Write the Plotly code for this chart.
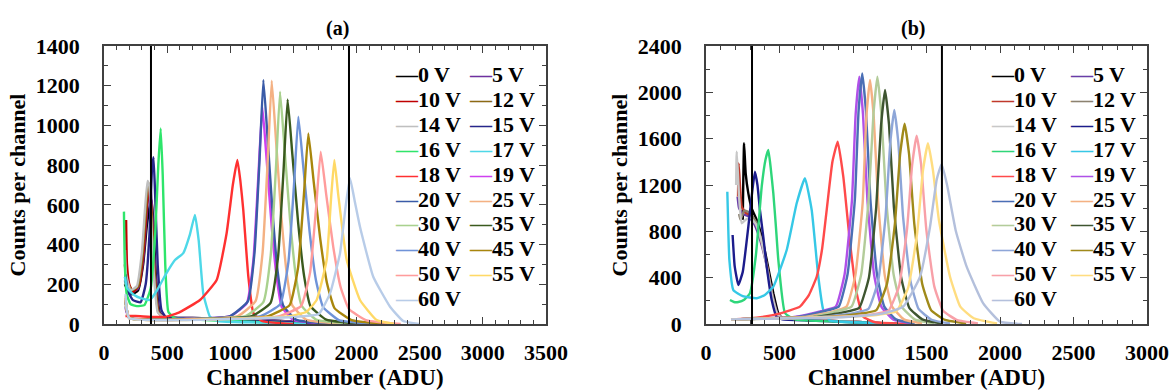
import plotly.graph_objects as go

# ---------------- data ----------------
labels = ["0 V", "5 V", "10 V", "12 V", "14 V", "15 V", "16 V", "17 V", "18 V", "19 V",
          "20 V", "25 V", "30 V", "35 V", "40 V", "45 V", "50 V", "55 V", "60 V"]

colors_a = ["#000000", "#7030A0", "#C00000", "#8C6A14", "#BFBFBF", "#26268C", "#2EE56B",
            "#4ED8E8", "#FF3030", "#D040F0", "#3A5BA8", "#F4B183", "#A9D18E", "#3A5A1E",
            "#6F93D8", "#A8860C", "#FF9C9C", "#FFD966", "#B8CCE8"]
colors_b = ["#000000", "#6A3DA8", "#C0392B", "#8C8270", "#C8C8C8", "#1C1C8C", "#2ED67A",
            "#36C8E6", "#FF4A4A", "#B050E8", "#4A6FB5", "#F4B183", "#B3CC9A", "#3E5530",
            "#8EA6D8", "#A08A1A", "#F8A0A8", "#FFDD80", "#B4C0DC"]

# Panel (a) spectra: channel (ADU) and counts per channel
a00_x = [165, 180, 220, 270, 310, 340, 365, 378, 392, 410, 440, 470, 700, 1000, 1400, 1800]
a00_y = [200, 180, 150, 170, 300, 500, 600, 624, 500, 250, 60, 35, 30, 25, 15, 0]
a05_x = [165, 180, 220, 270, 310, 335, 355, 368, 385, 405, 435, 470, 700, 1000, 1400, 1800]
a05_y = [220, 190, 160, 180, 320, 520, 680, 700, 520, 260, 60, 35, 30, 25, 15, 0]
a10_x = [175, 182, 200, 230, 280, 315, 340, 360, 378, 398, 430, 470, 700, 1000, 1400, 1800]
a10_y = [524, 300, 200, 160, 200, 380, 600, 700, 550, 280, 60, 35, 28, 22, 12, 0]
a12_x = [165, 180, 220, 270, 305, 330, 350, 362, 380, 400, 430, 470, 700, 1000, 1400, 1800]
a12_y = [300, 220, 170, 190, 350, 560, 710, 690, 500, 250, 60, 35, 28, 22, 12, 0]
a14_x = [166, 175, 210, 260, 300, 325, 345, 358, 375, 395, 425, 470, 700, 1000, 1400, 1800]
a14_y = [373, 250, 170, 190, 360, 580, 720, 700, 500, 250, 60, 35, 28, 22, 12, 0]
a15_x = [170, 185, 230, 290, 330, 360, 380, 392, 405, 425, 455, 490, 700, 1000, 1400, 1800]
a15_y = [250, 170, 120, 110, 200, 450, 780, 840, 650, 300, 70, 35, 28, 22, 12, 0]
a16_x = [158, 165, 180, 210, 260, 320, 370, 405, 430, 449, 465, 485, 510, 560, 800, 1200, 1600]
a16_y = [566, 300, 150, 100, 90, 95, 180, 450, 800, 985, 750, 300, 60, 30, 20, 10, 0]
a17_x = [165, 185, 230, 290, 364, 420, 480, 562, 628, 680, 720, 750, 786, 839, 900, 1200, 1600]
a17_y = [238, 180, 150, 130, 121, 170, 240, 322, 357, 450, 549, 420, 154, 37, 15, 8, 0]
a18_x = [170, 250, 400, 496, 600, 760, 892, 971, 1020, 1056, 1080, 1103, 1143, 1183, 1250, 1500]
a18_y = [40, 40, 35, 37, 60, 121, 222, 457, 700, 826, 720, 574, 238, 55, 15, 0]
a19_x = [170, 200, 600, 1000, 1130, 1183, 1222, 1254, 1288, 1328, 1367, 1407, 1500, 1800]
a19_y = [80, 30, 25, 40, 104, 322, 742, 1094, 826, 490, 238, 87, 20, 0]
a20_x = [170, 200, 600, 1000, 1140, 1192, 1232, 1262, 1296, 1336, 1376, 1418, 1520, 1800]
a20_y = [90, 30, 25, 40, 115, 360, 830, 1229, 930, 550, 260, 95, 22, 0]
a25_x = [170, 200, 650, 1060, 1200, 1256, 1297, 1328, 1362, 1404, 1446, 1490, 1600, 1900]
a25_y = [100, 30, 25, 40, 115, 360, 830, 1225, 925, 545, 260, 95, 22, 0]
a30_x = [170, 200, 700, 1120, 1262, 1320, 1362, 1394, 1430, 1474, 1518, 1565, 1680, 2000]
a30_y = [110, 30, 25, 40, 110, 345, 790, 1170, 880, 520, 248, 92, 22, 0]
a35_x = [170, 200, 750, 1170, 1318, 1378, 1421, 1454, 1492, 1538, 1585, 1635, 1760, 2050]
a35_y = [120, 30, 25, 40, 105, 335, 765, 1131, 850, 505, 240, 90, 22, 0]
a40_x = [170, 200, 800, 1240, 1396, 1460, 1505, 1539, 1579, 1628, 1678, 1735, 1860, 2150]
a40_y = [120, 30, 25, 40, 100, 310, 705, 1044, 785, 465, 222, 85, 20, 0]
a45_x = [170, 200, 850, 1300, 1470, 1537, 1583, 1618, 1660, 1712, 1766, 1825, 1960, 2250]
a45_y = [130, 30, 25, 40, 95, 285, 650, 960, 720, 430, 205, 80, 20, 0]
a50_x = [170, 200, 900, 1380, 1560, 1632, 1680, 1716, 1760, 1815, 1874, 1940, 2080, 2350]
a50_y = [130, 30, 25, 38, 90, 260, 590, 868, 650, 390, 185, 75, 18, 0]
a55_x = [170, 200, 950, 1450, 1600, 1684, 1763, 1800, 1824, 1855, 1922, 2027, 2159, 2300]
a55_y = [140, 30, 25, 38, 60, 121, 322, 650, 826, 650, 322, 121, 20, 0]
a60_x = [170, 200, 1000, 1500, 1700, 1790, 1869, 1915, 1948, 1985, 2027, 2132, 2265, 2370, 2500]
a60_y = [150, 30, 25, 35, 50, 154, 357, 600, 734, 620, 490, 238, 87, 15, 0]

# Panel (b) spectra
b00_x = [250, 259, 270, 288, 310, 345, 380, 413, 458, 492, 520, 700, 1000, 1300]
b00_y = [900, 1560, 1300, 1128, 1000, 898, 750, 553, 266, 92, 50, 35, 20, 0]
b05_x = [215, 225, 250, 290, 330, 370, 410, 450, 485, 520, 700, 1000, 1300]
b05_y = [1100, 1000, 950, 930, 860, 720, 520, 260, 90, 50, 35, 20, 0]
b10_x = [218, 222, 243, 270, 300, 340, 380, 415, 450, 480, 520, 700, 1000, 1300]
b10_y = [1100, 1387, 1013, 960, 940, 870, 700, 500, 250, 90, 50, 35, 20, 0]
b12_x = [225, 235, 260, 300, 340, 380, 415, 450, 485, 520, 700, 1000, 1300]
b12_y = [950, 900, 980, 960, 880, 710, 500, 250, 90, 50, 35, 20, 0]
b14_x = [205, 209, 225, 243, 270, 300, 340, 380, 415, 450, 485, 520, 700, 1000, 1300]
b14_y = [1200, 1488, 1100, 870, 900, 920, 860, 700, 480, 240, 85, 50, 35, 20, 0]
b15_x = [181, 195, 220, 250, 288, 315, 333, 350, 367, 390, 413, 447, 481, 520, 700, 1000, 1300]
b15_y = [768, 500, 337, 450, 840, 1150, 1315, 1200, 984, 750, 495, 207, 60, 40, 30, 15, 0]
b16_x = [163, 190, 220, 260, 299, 340, 379, 405, 424, 440, 458, 475, 492, 537, 600, 900, 1300]
b16_y = [207, 190, 190, 210, 266, 600, 1185, 1420, 1502, 1350, 1128, 850, 553, 95, 40, 20, 0]
b17_x = [145, 152, 159, 186, 250, 345, 400, 458, 549, 617, 673, 719, 764, 798, 843, 1000, 1300]
b17_y = [1142, 800, 553, 293, 240, 222, 250, 322, 639, 1042, 1258, 984, 408, 121, 30, 15, 0]
b18_x = [170, 345, 500, 639, 700, 753, 790, 821, 860, 896, 934, 980, 1025, 1070, 1150, 1400]
b18_y = [40, 55, 90, 150, 250, 408, 650, 984, 1400, 1574, 1272, 697, 265, 63, 15, 0]
b19_x = [170, 600, 783, 883, 943, 993, 1018, 1043, 1068, 1098, 1143, 1193, 1273, 1400]
b19_y = [40, 60, 110, 150, 430, 1070, 1810, 2135, 1810, 1070, 430, 150, 40, 5]
b20_x = [170, 620, 803, 903, 963, 1013, 1038, 1063, 1088, 1118, 1163, 1213, 1293, 1420]
b20_y = [40, 60, 110, 150, 430, 1080, 1840, 2164, 1840, 1080, 430, 150, 40, 5]
b25_x = [170, 660, 856, 956, 1016, 1066, 1091, 1116, 1141, 1171, 1216, 1266, 1346, 1470]
b25_y = [40, 60, 105, 150, 420, 1050, 1790, 2106, 1790, 1050, 420, 150, 40, 5]
b30_x = [170, 700, 880, 990, 1056, 1106, 1139, 1166, 1193, 1226, 1276, 1331, 1419, 1550]
b30_y = [40, 60, 107, 150, 430, 1070, 1810, 2135, 1810, 1070, 430, 150, 40, 5]
b35_x = [170, 740, 932, 1042, 1108, 1158, 1191, 1218, 1245, 1278, 1328, 1383, 1471, 1600]
b35_y = [40, 60, 100, 140, 400, 1010, 1720, 2020, 1720, 1010, 400, 140, 40, 5]
b40_x = [170, 780, 995, 1105, 1171, 1221, 1254, 1281, 1308, 1341, 1391, 1446, 1534, 1660]
b40_y = [40, 60, 92, 130, 370, 920, 1570, 1847, 1570, 920, 370, 130, 37, 5]
b45_x = [170, 820, 1039, 1159, 1231, 1285, 1321, 1351, 1381, 1417, 1471, 1531, 1627, 1770]
b45_y = [40, 60, 86, 120, 346, 865, 1470, 1730, 1470, 865, 346, 120, 35, 5]
b50_x = [170, 860, 1121, 1241, 1313, 1367, 1403, 1433, 1463, 1499, 1553, 1613, 1709, 1850]
b50_y = [40, 60, 81, 114, 325, 812, 1380, 1625, 1380, 812, 325, 114, 33, 5]
b55_x = [170, 900, 1159, 1294, 1375, 1436, 1476, 1510, 1544, 1584, 1660, 1730, 1821, 1980]
b55_y = [40, 60, 78, 109, 312, 780, 1326, 1560, 1326, 900, 408, 150, 50, 5]
b60_x = [170, 950, 1200, 1342, 1456, 1524, 1570, 1603, 1640, 1700, 1773, 1886, 2000, 2150]
b60_y = [40, 60, 90, 150, 408, 840, 1250, 1380, 1200, 800, 495, 178, 20, 0]

# Marker lines (channel positions)
a_vlines = [372, 1940]
b_vlines = [313, 1605]

a_xs = [a00_x, a05_x, a10_x, a12_x, a14_x, a15_x, a16_x, a17_x, a18_x, a19_x,
        a20_x, a25_x, a30_x, a35_x, a40_x, a45_x, a50_x, a55_x, a60_x]
a_ys = [a00_y, a05_y, a10_y, a12_y, a14_y, a15_y, a16_y, a17_y, a18_y, a19_y,
        a20_y, a25_y, a30_y, a35_y, a40_y, a45_y, a50_y, a55_y, a60_y]
b_xs = [b00_x, b05_x, b10_x, b12_x, b14_x, b15_x, b16_x, b17_x, b18_x, b19_x,
        b20_x, b25_x, b30_x, b35_x, b40_x, b45_x, b50_x, b55_x, b60_x]
b_ys = [b00_y, b05_y, b10_y, b12_y, b14_y, b15_y, b16_y, b17_y, b18_y, b19_y,
        b20_y, b25_y, b30_y, b35_y, b40_y, b45_y, b50_y, b55_y, b60_y]

# ---------------- figure ----------------
W, H = 1172, 391
FONT = "Liberation Serif"
fig = go.Figure()

for i, lab in enumerate(labels):
    fig.add_trace(go.Scatter(x=a_xs[i], y=a_ys[i], mode="lines", name=lab,
                             line=dict(color=colors_a[i], width=2.4, shape="spline", smoothing=0.4),
                             xaxis="x", yaxis="y", showlegend=False))
for i, lab in enumerate(labels):
    fig.add_trace(go.Scatter(x=b_xs[i], y=b_ys[i], mode="lines", name=lab,
                             line=dict(color=colors_b[i], width=2.4, shape="spline", smoothing=0.4),
                             xaxis="x2", yaxis="y2", showlegend=False))

tickfont = dict(family=FONT, size=22, color="black", weight="bold")
xtitlefont = dict(family=FONT, size=23, color="black", weight="bold")
ytitlefont = dict(family=FONT, size=22, color="black", weight="bold")

def xax(domain, rng, anchor):
    return dict(domain=domain, range=rng, anchor=anchor, dtick=500, tick0=0,
                ticks="inside", ticklen=7, tickwidth=1.3, tickcolor="#404040",
                minor=dict(dtick=100, ticks="inside", ticklen=4, tickwidth=1, tickcolor="#404040"),
                showline=True, linecolor="#404040", linewidth=1.5, mirror="allticks",
                showgrid=False, zeroline=False, tickfont=tickfont, ticklabelstandoff=8,
                automargin=False,
                title=dict(text="Channel number (ADU)", font=xtitlefont, standoff=4))

def yax(domain, rng, dt, mdt, anchor):
    return dict(domain=domain, range=rng, anchor=anchor, dtick=dt, tick0=0,
                ticks="inside", ticklen=7, tickwidth=1.3, tickcolor="#404040",
                minor=dict(dtick=mdt, ticks="inside", ticklen=4, tickwidth=1, tickcolor="#404040"),
                showline=True, linecolor="#404040", linewidth=1.5, mirror="allticks",
                showgrid=False, zeroline=False, tickfont=tickfont, ticklabelstandoff=18,
                automargin=False,
                title=dict(text="Counts per channel", font=ytitlefont, standoff=4))

ydom = [1 - 324 / H, 1 - 46 / H]
fig.update_layout(
    width=W, height=H, margin=dict(l=0, r=0, t=0, b=0, autoexpand=False),
    paper_bgcolor="white", plot_bgcolor="white", showlegend=False,
    xaxis=xax([104 / W, 546 / W], [0, 3500], "y"),
    yaxis=yax(ydom, [0, 1400], 200, 100, "x"),
    xaxis2=xax([706 / W, 1147 / W], [0, 3000], "y2"),
    yaxis2=yax(ydom, [0, 2400], 400, 200, "x2"),
)

shapes = []
for v in a_vlines:
    shapes.append(dict(type="line", xref="x", yref="y domain", x0=v, x1=v, y0=0, y1=1,
                       line=dict(color="black", width=2)))
for v in b_vlines:
    shapes.append(dict(type="line", xref="x2", yref="y2 domain", x0=v, x1=v, y0=0, y1=1,
                       line=dict(color="black", width=2)))
fig.update_layout(shapes=shapes)

ann = []
ann.append(dict(text="(a)", x=324 / W, y=1 - 15 / H, xref="paper", yref="paper",
                showarrow=False, font=dict(family=FONT, size=20, color="black", weight="bold")))
ann.append(dict(text="(b)", x=927 / W, y=1 - 15 / H, xref="paper", yref="paper",
                showarrow=False, font=dict(family=FONT, size=20, color="black", weight="bold")))

col1 = [0, 2, 4, 6, 8, 10, 12, 14, 16, 18]
col2 = [1, 3, 5, 7, 9, 11, 13, 15, 17]
for colors, x1, x2 in [(colors_a, 393, 467), (colors_b, 989, 1068)]:
    for cols, xp in [(col1, x1), (col2, x2)]:
        for r, idx in enumerate(cols):
            ann.append(dict(
                text='<span style="color:%s">—</span>%s' % (colors[idx], labels[idx]),
                x=xp / W, y=1 - (75 + 24.8 * r) / H, xref="paper", yref="paper",
                xanchor="left", yanchor="middle", showarrow=False,
                font=dict(family=FONT, size=22, color="black", weight="bold")))
fig.update_layout(annotations=ann)

fig.write_html("out.html")
